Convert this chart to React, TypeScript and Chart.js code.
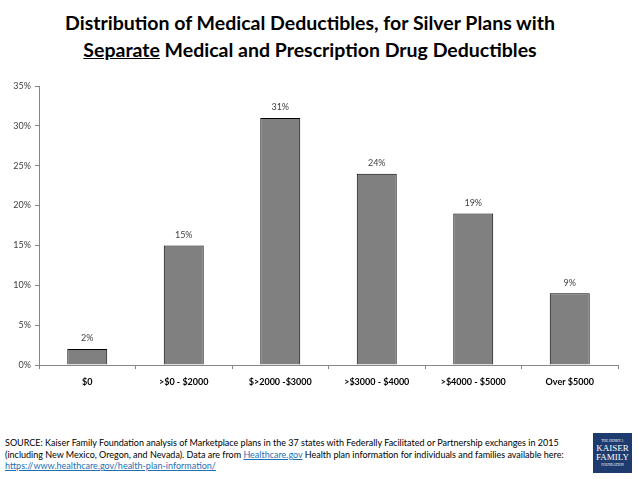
import React, { useEffect, useRef } from "react";
import { Chart, registerables } from "chart.js";

Chart.register(...registerables);

const categories = ["$0", ">$0 - $2000", "$>2000 -$3000", ">$3000 - $4000", ">$4000 - $5000", "Over $5000"];
const values = [2, 15, 31, 24, 19, 9];
const yTicks = [0, 5, 10, 15, 20, 25, 30, 35];

const FONT = "Lato, 'Open Sans', sans-serif";

const valueLabels = {
  id: "valueLabels",
  afterDatasetsDraw(chart: any) {
    const { ctx } = chart;
    const meta = chart.getDatasetMeta(0);
    ctx.save();
    ctx.fillStyle = "#404040";
    ctx.font = `9px ${FONT}`;
    ctx.textAlign = "center";
    ctx.textBaseline = "bottom";
    meta.data.forEach((bar: any, i: number) => {
      ctx.fillText(`${values[i]}%`, bar.x, bar.y - 6);
    });
    ctx.restore();
  },
};

export default function App() {
  const ref = useRef<HTMLCanvasElement>(null);
  useEffect(() => {
    document.body.style.margin = "0";
    const chart = new Chart(ref.current!, {
      type: "bar",
      data: {
        labels: categories,
        datasets: [
          {
            data: values,
            backgroundColor: "#808080",
            borderColor: "#000000",
            borderWidth: 1,
            categoryPercentage: 1,
            barPercentage: 0.414,
          },
        ],
      },
      options: {
        animation: false,
        responsive: false,
        maintainAspectRatio: false,
        layout: { padding: { top: 16, right: 20, left: 0, bottom: 0 } },
        plugins: { legend: { display: false }, tooltip: { enabled: false } },
        scales: {
          x: {
            offset: true,
            grid: { display: true, drawOnChartArea: false, drawTicks: true, tickLength: 4, color: "#868686", offset: true },
            border: { color: "#868686" },
            ticks: { color: "#000", font: { family: FONT, size: 9, weight: "bold" }, padding: 8 },
            afterFit: (s: any) => { s.height = 35; },
          },
          y: {
            min: 0,
            max: 35,
            afterBuildTicks: (s: any) => { s.ticks = yTicks.map((v) => ({ value: v })); },
            grid: { display: true, drawOnChartArea: false, drawTicks: true, tickLength: 4, color: "#868686" },
            border: { color: "#868686" },
            ticks: { color: "#404040", font: { family: FONT, size: 9 }, padding: 4, callback: (v: any) => `${v}%` },
            afterFit: (s: any) => { s.width = 39; },
          },
        },
      },
      plugins: [valueLabels],
    });
    return () => chart.destroy();
  }, []);

  const link = { color: "#1f6fb5", textDecoration: "underline" };

  return (
    <div style={{ position: "relative", width: 638, height: 479, background: "#fff", fontFamily: FONT, overflow: "hidden" }}>
      <div style={{ position: "absolute", top: 9, left: 0, width: 620, textAlign: "center", fontWeight: "bold", fontSize: 19.5, lineHeight: "27px", color: "#000", whiteSpace: "nowrap" }}>
        Distribution of Medical Deductibles, for Silver Plans with
        <br />
        <span style={{ textDecoration: "underline" }}>Separate</span> Medical and Prescription Drug Deductibles
      </div>
      <canvas ref={ref} width={638} height={330} style={{ position: "absolute", top: 70, left: 0, width: 638, height: 330 }} />
      <div style={{ position: "absolute", top: 437, left: 5, fontSize: 9, lineHeight: "11.5px", color: "#000", whiteSpace: "nowrap" }}>
        SOURCE: Kaiser Family Foundation analysis of Marketplace plans in the 37 states with Federally Facilitated or Partnership exchanges in 2015
        <br />
        (including New Mexico, Oregon, and Nevada). Data are from <span style={link}>Healthcare.gov</span> Health plan information for individuals and families available here:
        <br />
        <span style={link}>https://www.healthcare.gov/health-plan-information/</span>
      </div>
      <div style={{ position: "absolute", top: 433, left: 593, width: 39, height: 40, background: "#1d3b6e", color: "#fff", fontFamily: "'Liberation Serif', serif", textAlign: "center", display: "flex", flexDirection: "column", justifyContent: "center" }}>
        <div style={{ fontSize: 3.5, lineHeight: "5px" }}>THE HENRY J.</div>
        <div style={{ fontSize: 9, lineHeight: "9px" }}>KAISER</div>
        <div style={{ fontSize: 9, lineHeight: "9px" }}>FAMILY</div>
        <div style={{ fontSize: 3.5, lineHeight: "6px" }}>FOUNDATION</div>
      </div>
    </div>
  );
}
